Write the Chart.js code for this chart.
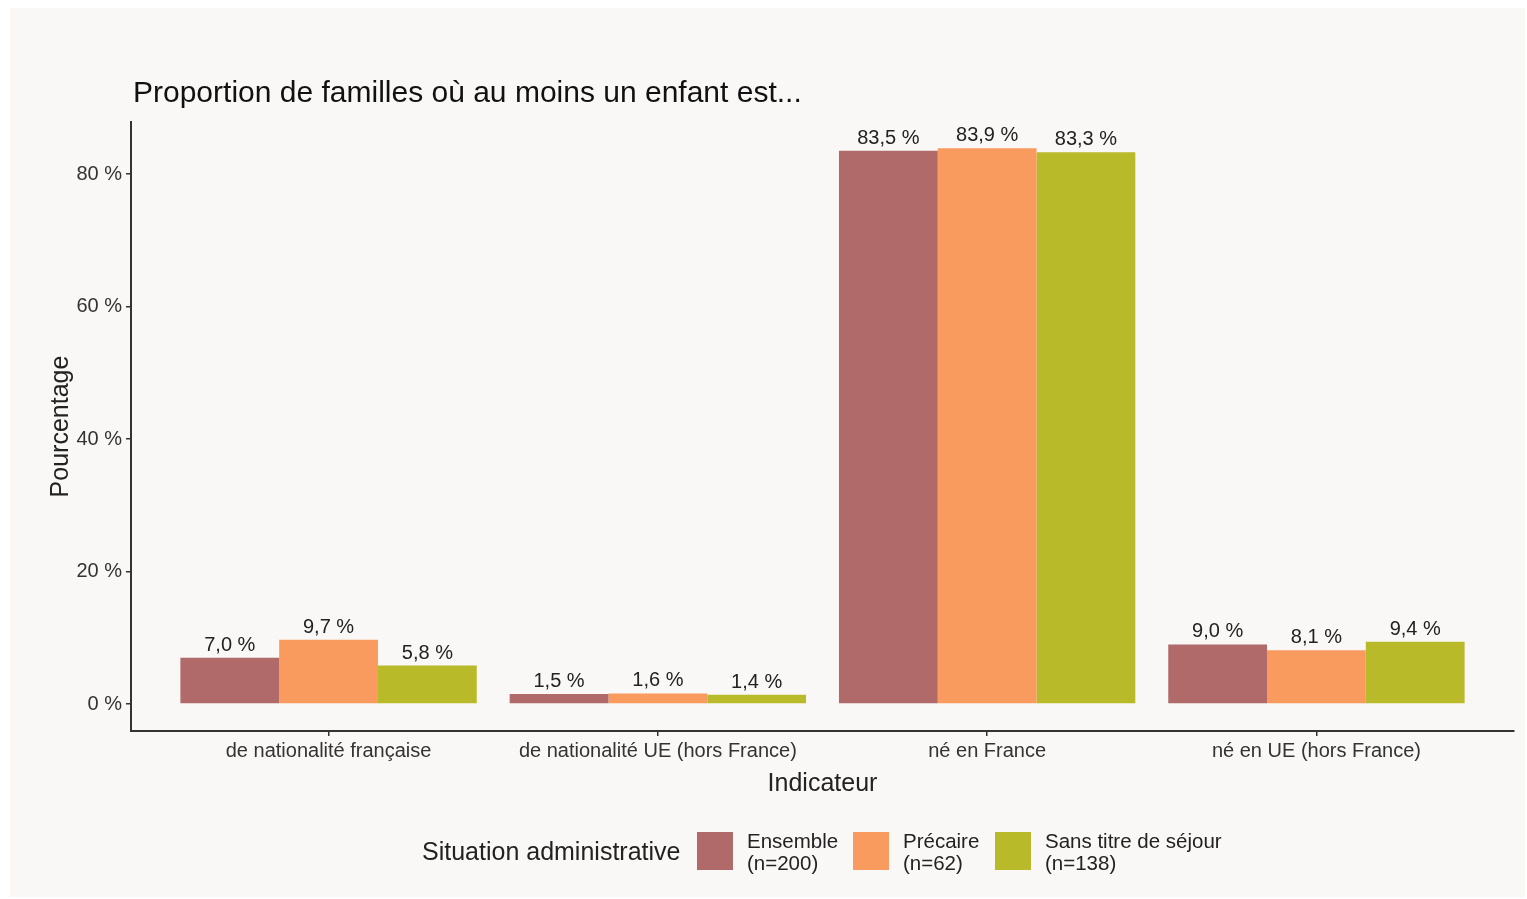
<!DOCTYPE html>
<html>
<head>
<meta charset="utf-8">
<script src="https://cdn.jsdelivr.net/npm/chart.js@4.4.1/dist/chart.umd.min.js"></script>
<style>
  html, body { margin: 0; padding: 0; background: #ffffff; }
  #wrap { position: absolute; left: 10px; top: 8px; width: 1515px; height: 889px; background: #f9f8f6; }
  #c { position: absolute; left: 0; top: 0; }
</style>
</head>
<body>
<div id="wrap"></div>
<canvas id="c" width="1527" height="899"></canvas>
<script>
    const categories = ['de nationalité française', 'de nationalité UE (hors France)', 'né en France', 'né en UE (hors France)'];
    const seriesNames = ['Ensemble', 'Précaire', 'Sans titre de séjour'];
    const seriesCounts = ['(n=200)', '(n=62)', '(n=138)'];
    const ensemble = [7.0, 1.5, 83.5, 9.0];
    const precaire = [9.7, 1.6, 83.9, 8.1];
    const sansTitre = [5.8, 1.4, 83.3, 9.4];
    const yTicks = [0, 20, 40, 60, 80];
    const colors = ['#b06a6a', '#f99a5f', '#b8ba2a'];

    const FONT = '"Liberation Sans", Arial, sans-serif';
    const fmt = v => v.toFixed(1).replace('.', ',') + ' %';

    const toPoints = arr => arr.map((v, i) => ({ x: i + 1, y: v }));

    const datasets = [ensemble, precaire, sansTitre].map((arr, k) => ({
        label: seriesNames[k],
        data: toPoints(arr),
        backgroundColor: colors[k],
        borderWidth: 0,
        categoryPercentage: 0.9,
        barPercentage: 1.0
    }));

    // texte : titre, axes, étiquettes, légende
    const decor = {
        id: 'decor',
        afterDatasetsDraw(chart) {
            const ctx = chart.ctx;
            ctx.save();
            ctx.fillStyle = '#222';
            ctx.textAlign = 'center';
            ctx.textBaseline = 'alphabetic';
            ctx.font = '20px ' + FONT;
            chart.data.datasets.forEach((ds, k) => {
                chart.getDatasetMeta(k).data.forEach((bar, i) => {
                    ctx.fillText(fmt(ds.data[i].y), bar.x, bar.y - 7);
                });
            });
            ctx.restore();
        },
        afterDraw(chart) {
            const ctx = chart.ctx;
            const a = chart.chartArea;
            ctx.save();
            ctx.fillStyle = '#111';
            ctx.font = '30px ' + FONT;
            ctx.textAlign = 'left';
            ctx.fillText('Proportion de familles où au moins un enfant est...', 133, 102);

            ctx.fillStyle = '#222';
            ctx.font = '25px ' + FONT;
            ctx.textAlign = 'center';
            ctx.fillText('Indicateur', (a.left + a.right) / 2, 791);

            ctx.save();
            ctx.translate(68, (a.top + a.bottom) / 2);
            ctx.rotate(-Math.PI / 2);
            ctx.fillText('Pourcentage', 0, 0);
            ctx.restore();

            // légende
            ctx.textAlign = 'left';
            ctx.font = '25px ' + FONT;
            ctx.fillText('Situation administrative', 422, 860);
            const boxX = [697, 853, 995];
            ctx.font = '20.5px ' + FONT;
            seriesNames.forEach((n, k) => {
                ctx.fillStyle = colors[k];
                ctx.fillRect(boxX[k], 832, 36, 38);
                ctx.fillStyle = '#222';
                ctx.fillText(n, boxX[k] + 50, 848);
                ctx.fillText(seriesCounts[k], boxX[k] + 50, 870);
            });
            ctx.restore();
        }
    };

    new Chart(document.getElementById('c'), {
        type: 'bar',
        data: { datasets },
        options: {
            responsive: false,
            animation: false,
            layout: { padding: { left: 0, top: 122, right: 13, bottom: 0 } },
            plugins: { legend: { display: false }, tooltip: { enabled: false } },
            scales: {
                x: {
                    type: 'linear',
                    offset: false,
                    min: 0.4,
                    max: 4.6,
                    afterBuildTicks: s => { s.ticks = categories.map((c, i) => ({ value: i + 1 })); },
                    afterFit: s => { s.height = 168; },
                    ticks: {
                        callback: v => categories[v - 1],
                        font: { size: 20, family: FONT },
                        color: '#333',
                        padding: 3,
                        maxRotation: 0,
                        autoSkip: false
                    },
                    grid: { offset: false, drawOnChartArea: false, tickLength: 5, color: '#333', lineWidth: 1.5 },
                    border: { color: '#333', width: 2 }
                },
                y: {
                    min: -4.075,
                    max: 87.85,
                    afterBuildTicks: s => { s.ticks = yTicks.map(v => ({ value: v })); },
                    afterFit: s => { s.width = 131; },
                    ticks: {
                        callback: v => v + ' %',
                        font: { size: 20, family: FONT },
                        color: '#333',
                        padding: 4
                    },
                    grid: { drawOnChartArea: false, tickLength: 5, color: '#333', lineWidth: 1.5 },
                    border: { color: '#333', width: 2 }
                }
            }
        },
        plugins: [decor]
    });
</script>
</body>
</html>
